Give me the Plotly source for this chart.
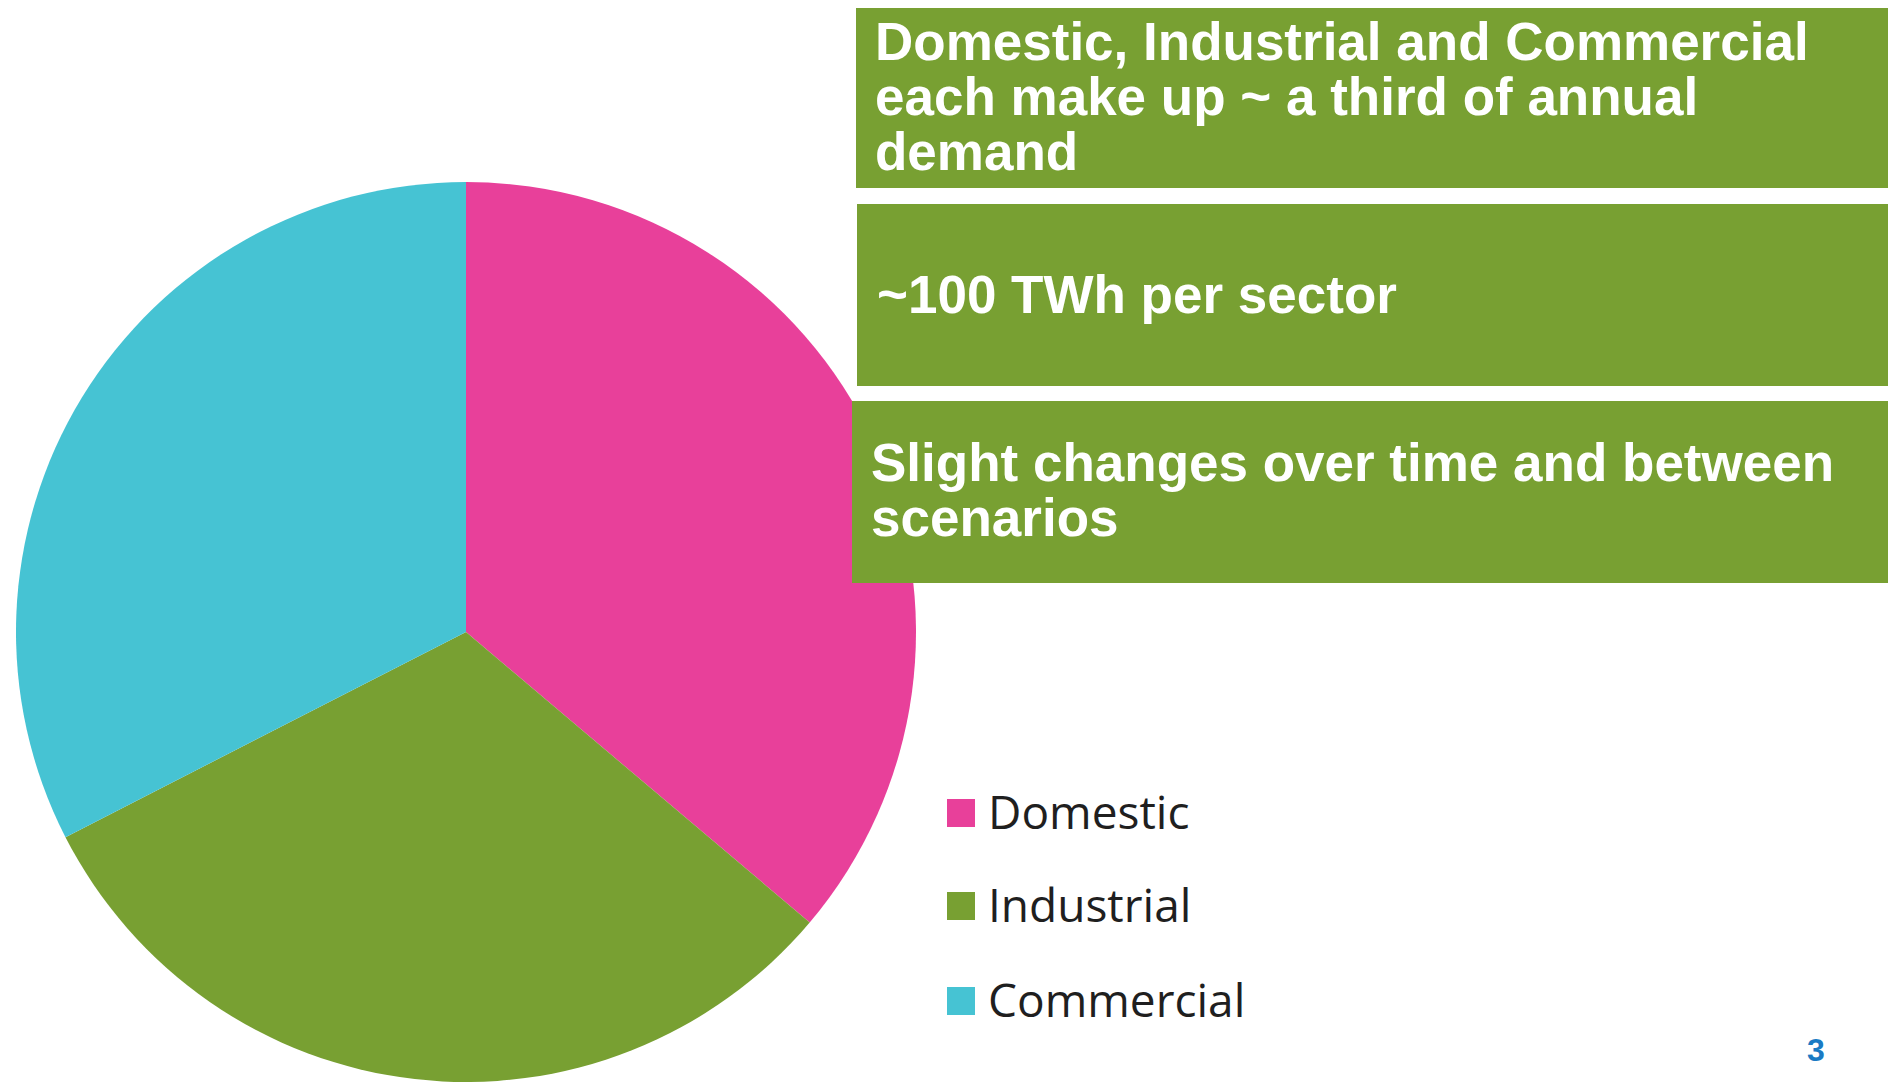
import plotly.graph_objects as go

PAGE_MARGIN = 8  # the html body margin pushes the plot 8px right and down
W, H = 1896 - PAGE_MARGIN, 1082 - PAGE_MARGIN

# sector shares of annual demand (TWh)
sectors = ["Domestic", "Industrial", "Commercial"]
demand_twh = [108.5, 93.9, 97.6]
sector_colors = ["#E8409A", "#78A032", "#46C3D3"]

# text in the green boxes, one list entry per line
box_lines = [
    ["Domestic, Industrial and Commercial", "each make up ~ a third of annual", "demand"],
    ["~100 TWh per sector"],
    ["Slight changes over time and between", "scenarios"],
]
page_number = "3"

green = "#78A032"


def px_x(x):
    # screen pixel x -> paper x
    return (x - PAGE_MARGIN) / W


def px_y(y):
    # screen pixel y (from the top) -> paper y
    return 1 - (y - PAGE_MARGIN) / H


fig = go.Figure()

# pie centred at screen (466, 632)
fig.add_trace(go.Pie(
    labels=sectors,
    values=demand_twh,
    marker=dict(colors=sector_colors, line=dict(width=0)),
    sort=False,
    direction="clockwise",
    rotation=0,
    textinfo="none",
    hoverinfo="label+value+percent",
    showlegend=False,
    domain=dict(x=[8 / W, 908 / W], y=[0, 900 / H]),
))

# green text boxes (left, top, right, bottom) and line centres
boxes = [(856, 7, 1894, 188), (857, 204, 1894, 386), (852, 401, 1894, 583)]
line_x = [873, 875, 869]
line_centres = [[41, 96, 151], [294], [462, 517]]

shapes = []
annotations = []
for (x0, y0, x1, y1), lines, lx, centres in zip(boxes, box_lines, line_x, line_centres):
    shapes.append(dict(type="rect", xref="paper", yref="paper",
                       x0=px_x(x0), x1=px_x(x1), y0=px_y(y1), y1=px_y(y0),
                       fillcolor=green, line=dict(width=0), layer="above"))
    for txt, cy in zip(lines, centres):
        annotations.append(dict(text=txt, xref="paper", yref="paper",
                                x=px_x(lx), y=px_y(cy), xanchor="left", yanchor="middle",
                                showarrow=False,
                                font=dict(family="Liberation Sans, Arial", size=53, color="white",
                                          weight="bold")))

# legend drawn by hand so the swatches can be as big as in the slide
leg_x0, leg_size = 947, 28
leg_rows = [813, 906, 1001]
for name, col, cy in zip(sectors, sector_colors, leg_rows):
    shapes.append(dict(type="rect", xref="paper", yref="paper",
                       x0=px_x(leg_x0), x1=px_x(leg_x0 + leg_size),
                       y0=px_y(cy + leg_size / 2), y1=px_y(cy - leg_size / 2),
                       fillcolor=col, line=dict(width=0), layer="above"))
    annotations.append(dict(text=name, xref="paper", yref="paper",
                            x=px_x(986), y=px_y(cy - 2), xanchor="left", yanchor="middle",
                            showarrow=False,
                            font=dict(family="Open Sans", size=46, color="#1f1f1f")))

annotations.append(dict(text=page_number, xref="paper", yref="paper",
                        x=px_x(1816), y=px_y(1050), xanchor="center", yanchor="middle",
                        showarrow=False,
                        font=dict(family="Liberation Sans, Arial", size=32, color="#1B7BC4",
                                  weight="bold")))

fig.update_layout(
    width=W, height=H,
    margin=dict(l=0, r=0, t=0, b=0),
    paper_bgcolor="white",
    plot_bgcolor="white",
    shapes=shapes,
    annotations=annotations,
)

fig.write_html("out.html")
